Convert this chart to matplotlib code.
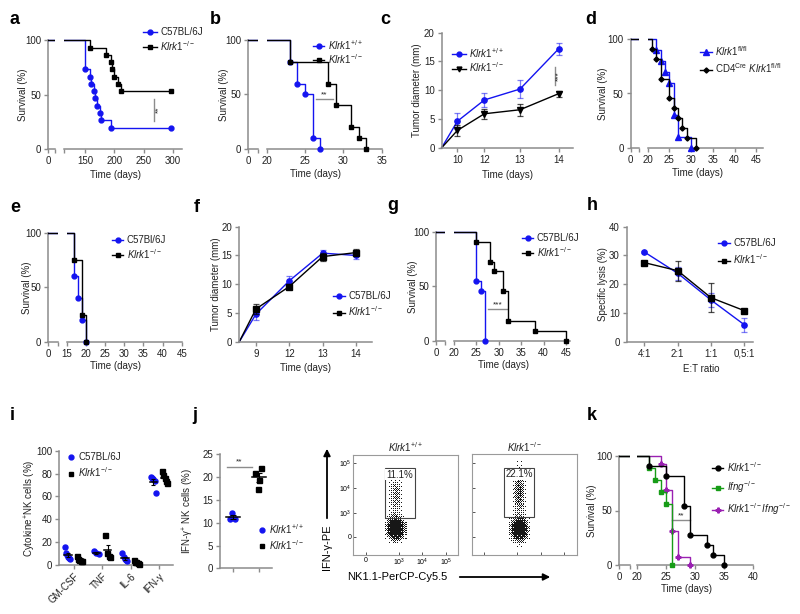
import numpy as np
import matplotlib
matplotlib.use('Agg')
import matplotlib.pyplot as plt
from matplotlib.lines import Line2D
from matplotlib.patches import Rectangle

plt.rcParams['font.family'] = ['Liberation Sans', 'DejaVu Sans']
plt.rcParams['mathtext.fontset'] = 'custom'
plt.rcParams['mathtext.rm'] = 'Liberation Sans'
plt.rcParams['mathtext.it'] = 'Liberation Sans:italic'
plt.rcParams['mathtext.bf'] = 'Liberation Sans:bold'

BLUE = '#1414f0'
GRAY = '#8c8c8c'
GREEN = '#179c17'
PURPLE = '#9a20b2'
TXT = '#222222'

WT = r'$\mathit{Klrk1}^{+/+}$'
KO = r'$\mathit{Klrk1}^{-/-}$'

# ---------------- data ----------------
# a: survival, days
a_wt_t = [150, 158, 160, 165, 167, 170, 175, 178, 195]
a_wt_s = [73.3, 66.7, 60.0, 53.3, 46.7, 40.0, 33.3, 26.7, 20.0]
a_ko_t = [159, 185, 195, 196, 200, 207, 212]
a_ko_s = [93.3, 86.7, 80.0, 73.3, 66.7, 60.0, 53.3]
a_end = 297

# b
b_wt_t = [23, 24, 25, 26, 27]
b_wt_s = [80, 60, 50, 10, 0]
b_ko_t = [23, 28, 29, 31, 32, 33]
b_ko_s = [80, 60, 40, 20, 10, 0]

# c: tumor diameter (mm)
c_days = ['10', '12', '13', '14']
c_wt = [4.6, 8.3, 10.2, 17.2]
c_wt_err = [1.4, 1.2, 1.6, 1.0]
c_ko = [3.0, 5.9, 6.6, 9.4]
c_ko_err = [1.0, 0.9, 1.0, 0.5]

# d
d_fl_t = [22, 23, 24, 25, 26, 27, 30]
d_fl_s = [90, 80, 70, 60, 30, 10, 0]
d_cre_t = [21, 22, 23, 25, 26, 27, 28, 29, 31]
d_cre_s = [90.9, 81.8, 63.6, 45.5, 36.4, 27.3, 18.2, 9.1, 0]

# e
e_wt_t = [17, 18, 19, 20]
e_wt_s = [60, 40, 20, 0]
e_ko_t = [17, 19, 20]
e_ko_s = [75, 25, 0]

# f
f_days = ['9', '12', '13', '14']
f_wt = [4.8, 10.6, 15.4, 15.0]
f_wt_err = [1.0, 0.9, 0.6, 0.7]
f_ko = [5.7, 9.6, 14.8, 15.5]
f_ko_err = [0.9, 0.5, 0.7, 0.6]

# g
g_wt_t = [25, 26, 27]
g_wt_s = [54.5, 45.5, 0]
g_ko_t = [25, 28, 29, 31, 32, 38, 45]
g_ko_s = [90.9, 72.7, 63.6, 45.5, 18.2, 9.1, 0]

# h: specific lysis
h_ratio = ['4:1', '2:1', '1:1', '0,5:1']
h_wt = [31.2, 23.8, 14.5, 5.9]
h_wt_err = [0.4, 2.3, 2.3, 2.5]
h_ko = [27.5, 24.7, 15.3, 10.8]
h_ko_err = [0.4, 3.5, 5.0, 0.4]

# i: cytokine+ NK cells
i_cyt = ['GM-CSF', 'TNF', 'IL-6', 'IFN-γ']
i_wt = [[16, 10, 8.5, 7, 6, 5], [12, 10, 9.5], [10, 7, 5, 4, 3], [77, 76, 75, 74, 63]]
i_ko = [[8, 5, 4, 3.5, 3], [26, 10, 8, 7], [4.5, 2.5, 2, 1.5, 1], [82, 79, 76, 74, 72]]

# j: IFN-g+ NK cells
j_wt = [10.9, 12.1, 10.9]
j_ko = [22.1, 21.0, 19.4, 17.4]

# flow: gate percentages
flow_titles = [WT, r'$\mathit{Klrk1}^{-/-}$']
flow_pct = ['11.1%', '22.1%']

# k
k_ko_t = [22, 25, 28, 29, 32, 33, 35]
k_ko_s = [90.9, 81.8, 54.5, 27.3, 18.2, 9.1, 0]
k_ifng_t = [22, 23, 24, 25, 26]
k_ifng_s = [88.9, 77.8, 66.7, 55.6, 0]
k_dko_t = [24, 25, 26, 27, 29]
k_dko_s = [92.3, 69.2, 30.8, 7.7, 0]

# ---------------- helpers ----------------
W, H = 800, 614
fig = plt.figure(figsize=(8, 6.14), dpi=100)


def frect(l, t, r, b):
    return [l / W, 1 - b / H, (r - l) / W, (b - t) / H]


def style(ax):
    ax.patch.set_visible(False)
    for s in ('top', 'right'):
        ax.spines[s].set_visible(False)
    for s in ('left', 'bottom'):
        ax.spines[s].set_color(GRAY)
        ax.spines[s].set_linewidth(1.1)
    ax.tick_params(direction='out', length=3, width=1, color=GRAY,
                   labelsize=7, labelcolor=TXT, pad=2)


def surv_axes(seg1, seg2, top, bottom, x1max, xlim2, ticks):
    pad = 0.05
    h = bottom - top
    t, b = top - pad * h, bottom + pad * h
    ax1 = fig.add_axes(frect(seg1[0], t, seg1[1], b))
    ax2 = fig.add_axes(frect(seg2[0], t, seg2[1], b))
    for ax in (ax1, ax2):
        style(ax)
        ax.set_ylim(-5, 105)
        ax.spines['bottom'].set_position(('data', 0))
        ax.spines['left'].set_bounds(0, 100)
    ax1.set_xlim(0, x1max)
    ax1.set_xticks([0, x1max], ['0', ''])
    ax1.set_yticks([0, 50, 100])
    ax2.set_xlim(*xlim2)
    tk = list(ticks) if ticks[0] == xlim2[0] else [xlim2[0]] + list(ticks)
    ax2.set_xticks(tk, [str(v) if v in ticks else '' for v in tk])
    ax2.spines['left'].set_visible(False)
    ax2.tick_params(left=False, labelleft=False)
    return ax1, ax2


def km(axes, times, surv, color, marker, ms=3.5, end=None, z=3):
    x = [0] + list(times)
    y = [100] + list(surv)
    mx, my = list(times), list(surv)
    if end is not None:
        x.append(end)
        y.append(surv[-1])
        mx.append(end)
        my.append(surv[-1])
    for ax in axes:
        ax.step(x, y, where='post', color=color, lw=1, zorder=z)
    axes[1].plot(mx, my, ls='none', marker=marker, ms=ms, color=color,
                 zorder=z + 1, clip_on=False)


def handle(color, marker, ms=3.5, line=True):
    return Line2D([], [], color=color, marker=marker, ms=ms, lw=1 if line else 0)


def leg(handles, labels, x, y, hl=1.4, ls=0.25):
    fig.legend(handles, labels, loc='upper left', bbox_to_anchor=(x / W, 1 - y / H),
               frameon=False, fontsize=7, handlelength=hl, handletextpad=0.35,
               labelspacing=ls, borderpad=0, borderaxespad=0, labelcolor=TXT)


labels_txt = []  # (x, y, text, rotation)


def xlab(l, r, bottom, off, text='Time (days)'):
    labels_txt.append(((l + r) / 2, bottom + off, text, 0))


def ylab(x, top, bottom, text='Survival (%)'):
    labels_txt.append((x, (top + bottom) / 2, text, 90))


# ---------------- a ----------------
a1, a2 = surv_axes((48.3, 55), (64, 181.7), 40.3, 149.3, 11, (114, 315), [150, 200, 250, 300])
km((a1, a2), a_wt_t, a_wt_s, BLUE, 'o', end=a_end)
km((a1, a2), a_ko_t, a_ko_s, 'k', 's', end=a_end, z=5)
a2.plot([268, 268], [26, 46], color=GRAY, lw=1)
a2.text(276, 36, '**', rotation=90, fontsize=6, ha='center', va='center', color=TXT)
leg([handle(BLUE, 'o'), handle('k', 's')], ['C57BL/6J', KO], 143, 27, hl=1.45, ls=0.2)
xlab(48.3, 181.7, 149.3, 26)
ylab(23, 40.3, 149.3)

# ---------------- b ----------------
b1, b2 = surv_axes((248.3, 258.3), (266.7, 381.7), 40.3, 148.7, 1.3, (20, 35), [20, 25, 30, 35])
km((b1, b2), b_wt_t, b_wt_s, BLUE, 'o')
km((b1, b2), b_ko_t, b_ko_s, 'k', 's', z=5)
b2.plot([26.4, 28.6], [45.5, 45.5], color=GRAY, lw=1)
b2.text(27.5, 46.5, '**', fontsize=6, ha='center', va='bottom', color=TXT)
leg([handle(BLUE, 'o'), handle('k', 's')], [WT, KO], 313, 38, hl=1.15, ls=0.0)
xlab(248.3, 381.7, 148.7, 25)
ylab(224, 40.3, 148.7)

# ---------------- c ----------------
c_knots_x = [-1, 0, 1, 2, 3, 3.38]
c_knots_f = [0, 0.119, 0.324, 0.595, 0.889, 1.0]


def c_fwd(v):
    return np.interp(v, c_knots_x, c_knots_f)


def c_inv(v):
    return np.interp(v, c_knots_f, c_knots_x)


axc = fig.add_axes(frect(441.7, 32.7, 573.3, 147.7))
style(axc)
axc.set_xscale('function', functions=(c_fwd, c_inv))
axc.set_xlim(-1, 3.38)
axc.set_ylim(0, 20)
xi = np.arange(len(c_days))
for vals, err, col, mk, ea in [(c_wt, c_wt_err, BLUE, 'o', 0.55), (c_ko, c_ko_err, 'k', 'v', 0.7)]:
    axc.errorbar(xi, vals, yerr=err, fmt='none', ecolor=col, alpha=ea, elinewidth=0.9,
                 capsize=2, capthick=0.9, clip_on=False)
    axc.plot(np.r_[-1, xi], np.r_[0, vals], color=col, lw=1, marker=mk, ms=3.8,
             markevery=[1, 2, 3, 4], clip_on=False)
axc.set_xticks(xi, c_days)
axc.set_yticks([0, 5, 10, 15, 20])
axc.plot([2.91, 2.91], [10.9, 14.1], color=GRAY, lw=1)
axc.text(2.99, 12.5, '***', rotation=90, fontsize=6, ha='center', va='center', color=TXT)
leg([handle(BLUE, 'o'), handle('k', 'v')], [WT, KO], 452, 46, hl=1.4, ls=0.05)
xlab(441.7, 573.3, 147.7, 27)
ylab(417, 32.7, 147.7, 'Tumor diameter (mm)')

# ---------------- d ----------------
d1, d2 = surv_axes((630.7, 639.3), (647.7, 763.3), 39.3, 147.7, 2, (20, 46.6), [20, 25, 30, 35, 40, 45])
km((d1, d2), d_fl_t, d_fl_s, BLUE, '^', ms=3.8)
km((d1, d2), d_cre_t, d_cre_s, 'k', 'D', ms=2.6, z=5)
leg([handle(BLUE, '^', 3.8), handle('k', 'D', 2.6)],
    [r'$\mathit{Klrk1}^{\mathrm{fl/fl}}$', r'CD4$^{\mathrm{Cre}}$ $\mathit{Klrk1}^{\mathrm{fl/fl}}$'],
    700, 44, hl=1.2, ls=0.4)
xlab(630.7, 763.3, 147.7, 25)
ylab(603, 39.3, 147.7)

# ---------------- e ----------------
e1, e2 = surv_axes((48.3, 58.3), (66.7, 181.7), 232.7, 342, 2.6, (15, 45), [15, 20, 25, 30, 35, 40, 45])
km((e1, e2), e_wt_t, e_wt_s, BLUE, 'o')
km((e1, e2), e_ko_t, e_ko_s, 'k', 's', z=5)
leg([handle(BLUE, 'o'), handle('k', 's')], ['C57Bl/6J', KO], 112, 235, hl=1.15, ls=0.2)
xlab(48.3, 181.7, 342, 24)
ylab(27, 232.7, 342)

# ---------------- f ----------------
axf = fig.add_axes(frect(239.3, 226.7, 371.7, 341.7))
style(axf)
axf.set_xlim(-0.5, 3.47)
axf.set_ylim(0, 20)
xf = np.arange(len(f_days))
for vals, err, col, mk, ea in [(f_wt, f_wt_err, BLUE, 'o', 0.55), (f_ko, f_ko_err, 'k', 's', 0.7)]:
    axf.errorbar(xf, vals, yerr=err, fmt='none', ecolor=col, alpha=ea, elinewidth=0.9,
                 capsize=2, capthick=0.9, clip_on=False)
    axf.plot(np.r_[-0.5, xf], np.r_[0, vals], color=col, lw=1, marker=mk, ms=3.8,
             markevery=[1, 2, 3, 4], clip_on=False)
axf.set_xticks(xf, f_days)
axf.set_yticks([0, 5, 10, 15, 20])
leg([handle(BLUE, 'o'), handle('k', 's')], ['C57BL/6J', KO], 333, 291, hl=1.2, ls=0.35)
xlab(239.3, 371.7, 341.7, 26)
ylab(216, 226.7, 341.7, 'Tumor diameter (mm)')

# ---------------- g ----------------
g1, g2 = surv_axes((436, 445), (454, 570), 231.7, 341, 2, (20, 45.9), [20, 25, 30, 35, 40, 45])
km((g1, g2), g_wt_t, g_wt_s, BLUE, 'o')
km((g1, g2), g_ko_t, g_ko_s, 'k', 's', z=5)
g2.plot([27.6, 31.8], [29, 29], color=GRAY, lw=1)
g2.text(29.7, 30, '***', fontsize=6, ha='center', va='bottom', color=TXT)
leg([handle(BLUE, 'o'), handle('k', 's')], ['C57BL/6J', KO], 522, 233, hl=1.15, ls=0.2)
xlab(436, 570, 341, 24)
ylab(413, 231.7, 341)

# ---------------- h ----------------
axh = fig.add_axes(frect(626.7, 226.7, 753.3, 341.7))
style(axh)
axh.set_xlim(-0.53, 3.27)
axh.set_ylim(0, 40)
xh = np.arange(len(h_ratio))
for vals, err, col, mk, ea in [(h_wt, h_wt_err, BLUE, 'o', 0.55), (h_ko, h_ko_err, 'k', 's', 0.7)]:
    axh.errorbar(xh, vals, yerr=err, fmt='none', ecolor=col, alpha=ea, elinewidth=0.9,
                 capsize=2, capthick=0.9, clip_on=False)
    axh.plot(xh, vals, color=col, lw=1, marker=mk, ms=3.8, clip_on=False)
axh.set_xticks(xh, h_ratio)
axh.set_yticks([0, 10, 20, 30, 40])
leg([handle(BLUE, 'o'), handle('k', 's')], ['C57BL/6J', KO], 718, 238, hl=1.2, ls=0.45)
xlab(640, 762, 341.7, 27, 'E:T ratio')
ylab(603, 226.7, 341.7, 'Specific lysis (%)')

# ---------------- i ----------------
axi = fig.add_axes(frect(59.3, 451, 173.3, 564.7))
style(axi)
axi.set_xlim(-0.5, 3.5)
axi.set_ylim(0, 100)
for k in range(len(i_cyt)):
    for vals, dx, col, mk in [(i_wt[k], -0.2, BLUE, 'o'), (i_ko[k], 0.2, 'k', 's')]:
        n = len(vals)
        xs = k + dx + np.linspace(-0.09, 0.09, n)
        axi.plot(xs, vals, ls='none', marker=mk, ms=3.6, color=col, zorder=3, clip_on=False)
        m = np.mean(vals)
        sem = np.std(vals, ddof=1) / np.sqrt(n)
        axi.plot([k + dx - 0.13, k + dx + 0.13], [m, m], color='k', lw=1.1, zorder=4)
        axi.errorbar([k + dx], [m], yerr=[sem], fmt='none', ecolor='k', elinewidth=0.8,
                     capsize=1.5, capthick=0.8, zorder=4)
axi.set_xticks(range(len(i_cyt)), i_cyt, rotation=45, ha='right', rotation_mode='anchor')
axi.set_yticks([0, 20, 40, 60, 80, 100])
leg([handle(BLUE, 'o', line=False), handle('k', 's', line=False)], ['C57BL/6J', KO],
    67, 452, hl=0.8, ls=0.35)
ylab(30, 451, 564.7, r'Cytokine$^{+}$NK cells (%)')

# ---------------- j ----------------
j_wt_dx = [-0.13, -0.03, 0.09]
j_ko_dx = [0.09, -0.13, 0.0, -0.03]
axj = fig.add_axes(frect(220, 454.3, 271.7, 568.3))
style(axj)
axj.set_xlim(-0.5, 1.5)
axj.set_ylim(0, 25)
for pos, vals, dx, col, mk in [(0, j_wt, j_wt_dx, BLUE, 'o'), (1, j_ko, j_ko_dx, 'k', 's')]:
    axj.plot(pos + np.array(dx), vals, ls='none', marker=mk, ms=3.6, color=col, zorder=3)
    m = np.mean(vals)
    sem = np.std(vals, ddof=1) / np.sqrt(len(vals))
    axj.plot([pos - 0.28, pos + 0.28], [m, m], color='k', lw=1.1, zorder=4)
    axj.errorbar([pos], [m], yerr=[sem], fmt='none', ecolor='k', elinewidth=0.8,
                 capsize=2, capthick=0.8, zorder=4)
axj.plot([-0.23, 0.74], [22.2, 22.2], color=GRAY, lw=1)
axj.text(0.25, 22.5, '**', fontsize=6, ha='center', va='bottom', color=TXT)
axj.set_xticks([0, 1], ['', ''])
axj.set_yticks([0, 5, 10, 15, 20, 25])
leg([handle(BLUE, 'o', line=False), handle('k', 's', line=False)], [WT, KO],
    258, 522, hl=0.8, ls=0.2)
ylab(188, 454.3, 568.3, r'IFN-γ$^{+}$ NK cells (%)')

# ---------------- flow plots ----------------
# cell populations: centre x, centre y, spread x, spread y, share
flow_pops = [
    [(0.41, 0.27, 0.038, 0.055, 0.89), (0.41, 0.60, 0.03, 0.12, 0.11)],
    [(0.445, 0.26, 0.038, 0.055, 0.78), (0.445, 0.62, 0.03, 0.12, 0.22)],
]
flow_rects = [(353.3, 455, 458.3, 555), (471.7, 454.3, 576.7, 555)]
gates = [(0.30, 0.374, 0.29, 0.493), (0.308, 0.374, 0.288, 0.493)]
fx_ticks = [0.12, 0.435, 0.657, 0.88]
fy_ticks = [0.183, 0.423, 0.667, 0.917]
f_ticklabels = ['0', r'10$^{3}$', r'10$^{4}$', r'10$^{5}$']

# ordered (Bayer) dithering turns the density into a dot pattern
bayer = (np.array([[0, 8, 2, 10], [12, 4, 14, 6], [3, 11, 1, 9], [15, 7, 13, 5]]) + 0.5) / 16
nx, ny = 104, 100
gx, gy = np.meshgrid((np.arange(nx) + 0.5) / nx, (np.arange(ny) + 0.5) / ny)
thr = np.tile(bayer, (ny // 4 + 1, nx // 4 + 1))[:ny, :nx]
for n, (rc, pops, gate, title, pct) in enumerate(zip(flow_rects, flow_pops, gates, flow_titles, flow_pct)):
    ax = fig.add_axes(frect(*rc))
    dens = np.zeros_like(gx)
    for cx, cy, sx, sy, w in pops:
        dens += w / (sx * sy) * np.exp(-((gx - cx) ** 2 / (2 * sx ** 2) + (gy - cy) ** 2 / (2 * sy ** 2)))
    val = 1 - np.exp(-0.02 * dens)
    dots = (val > thr).astype(float) * 0.92
    ax.imshow(dots, cmap='Greys', origin='lower', extent=(0, 1, 0, 1), vmin=0, vmax=1,
              aspect='auto', interpolation='nearest')
    ax.add_patch(Rectangle(gate[:2], gate[2], gate[3], fill=False, ec='#444444', lw=0.8))
    ax.text(gate[0] + 0.01, gate[1] + gate[3] - 0.015, pct, fontsize=7, ha='left', va='top',
            color=TXT, bbox=dict(fc='white', ec='none', pad=0.3))
    ax.set_xlim(0, 1)
    ax.set_ylim(0, 1)
    for s in ax.spines.values():
        s.set_color('#9a9a9a')
        s.set_linewidth(0.8)
    ax.tick_params(direction='in', length=2, width=0.7, color='#555555', labelsize=5, pad=1.5)
    if n == 0:
        ax.set_xticks(fx_ticks, f_ticklabels)
        ax.set_yticks(fy_ticks, f_ticklabels)
    else:
        ax.set_xticks(fx_ticks, [''] * 4)
        ax.set_yticks(fy_ticks, [''] * 4)
    ax.set_title(title, fontsize=7, pad=2, color=TXT)

# ---------------- k ----------------
k1, k2 = surv_axes((619.3, 630), (637.3, 753.3), 456, 565, 1.8, (20, 40), [20, 25, 30, 35, 40])
km((k1, k2), k_dko_t, k_dko_s, PURPLE, 'P', ms=3.5, z=3)
km((k1, k2), k_ifng_t, k_ifng_s, GREEN, 's', z=5)
km((k1, k2), k_ko_t, k_ko_s, 'k', 'o', z=7)
k2.plot([26, 29], [41, 41], color=GRAY, lw=1)
k2.text(27.5, 42, '**', fontsize=6, ha='center', va='bottom', color=TXT)
leg([handle('k', 'o'), handle(GREEN, 's'), handle(PURPLE, 'P')],
    [KO, r'$\mathit{Ifng}^{-/-}$', r'$\mathit{Klrk1}^{-/-}\mathit{Ifng}^{-/-}$'],
    712, 460, hl=1.15, ls=0.6)
xlab(619.3, 753.3, 565, 24)
ylab(592, 456, 565)

# ---------------- overlay: labels, letters, arrows ----------------
ov = fig.add_axes([0, 0, 1, 1])
ov.set_xlim(0, W)
ov.set_ylim(H, 0)
ov.axis('off')
for x, y, t, rot in labels_txt:
    ov.text(x, y, t, fontsize=7, rotation=rot, ha='center', va='center', color=TXT)

letters = [('a', 15, 19), ('b', 215, 19), ('c', 385, 19), ('d', 591, 19),
           ('e', 15, 207), ('f', 197, 207), ('g', 393, 205), ('h', 592, 206),
           ('i', 12, 416), ('j', 195, 415), ('k', 592, 415)]
for t, x, y in letters:
    ov.text(x, y, t, fontsize=13, fontweight='bold', ha='center', va='center')

ov.annotate('', xy=(327, 446), xytext=(327, 521),
            arrowprops=dict(arrowstyle='-|>', lw=1.3, color='k', mutation_scale=10))
ov.text(327, 547, 'IFN-γ-PE', rotation=90, fontsize=8, ha='center', va='center')
ov.annotate('', xy=(553, 577), xytext=(457, 577),
            arrowprops=dict(arrowstyle='-|>', lw=1.3, color='k', mutation_scale=10))
ov.text(397, 577, 'NK1.1-PerCP-Cy5.5', fontsize=8, ha='center', va='center')

fig.savefig('out.png', dpi=100)
